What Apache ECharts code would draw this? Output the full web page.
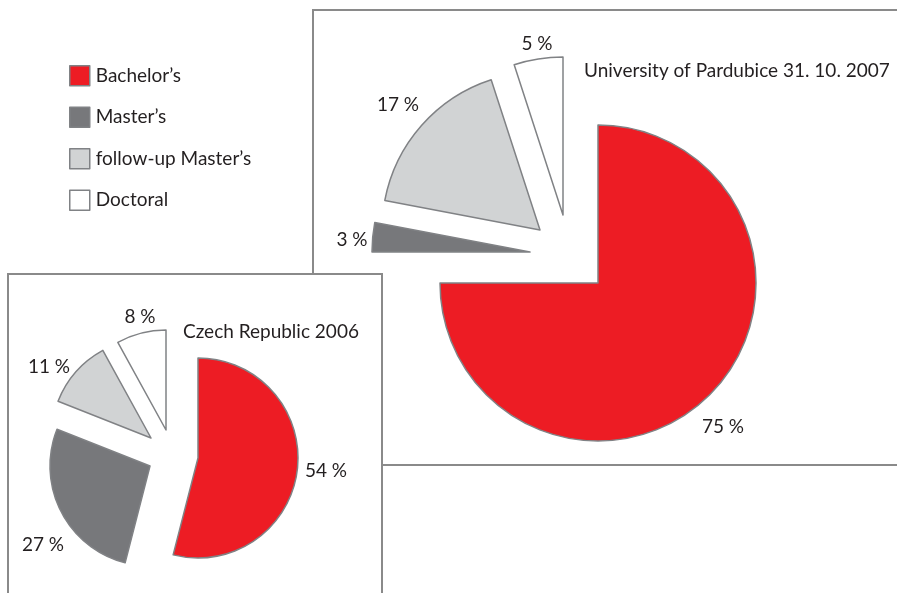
<!DOCTYPE html>
<html>
<head>
<meta charset="utf-8">
<script src="https://cdn.jsdelivr.net/npm/echarts@6/dist/echarts.min.js"></script>
<style>
  html, body { margin: 0; padding: 0; background: #fff; }
  #chart { width: 897px; height: 593px; }
</style>
</head>
<body>
<div id="chart"></div>
<script>
// data
const categories = ['Bachelor’s', 'Master’s', 'follow-up Master’s', 'Doctoral']
const univValues = [75, 3, 17, 5]
const czechValues = [54, 27, 11, 8]
const titles = ['University of Pardubice 31. 10. 2007', 'Czech Republic 2006']

const colors = ['#ed1c24', '#77787b', '#d1d3d4', '#ffffff']
const edge = '#808285'
const ink = '#231f20'
const font = 'Lato'
const fontSize = 19

// each slice is pulled out on its own, so every slice gets its own centre shift
const univLayout = {
  center: [598, 283], r: 158, z: 2,
  shift: [[0, 0], [-68, -31], [-58, -53], [-35, -68]],
  labelAt: [[723, 427], [352, 240], [398, 105], [537, 44]]
}
const czechLayout = {
  center: [198, 458], r: 100, z: 20,
  shift: [[0, 0], [-48, 8], [-47, -20], [-32, -28]],
  labelAt: [[326, 471], [43, 545], [49, 367], [140, 317]]
}

const sliceSeries = (values, lay) => values.map((v, i) => ({
  type: 'pie',
  silent: true,
  z: lay.z,
  radius: lay.r,
  center: [lay.center[0] + lay.shift[i][0], lay.center[1] + lay.shift[i][1]],
  startAngle: 90,
  clockwise: true,
  avoidLabelOverlap: false,
  emphasis: { disabled: true },
  labelLine: { show: false },
  labelLayout: () => ({
    x: lay.labelAt[i][0], y: lay.labelAt[i][1], align: 'center', verticalAlign: 'middle'
  }),
  data: values.map((val, j) => ({
    name: categories[j],
    value: val,
    itemStyle: j === i
      ? { color: colors[j], borderColor: edge, borderWidth: 1.5 }
      : { color: 'rgba(0,0,0,0)', borderWidth: 0 },
    label: j === i
      ? { show: true, position: 'outside', formatter: '{c} %', fontFamily: font, fontSize: fontSize, color: ink }
      : { show: false }
  }))
}))

const chart = echarts.init(document.getElementById('chart'))
chart.setOption({
  backgroundColor: '#fff',
  animation: false,
  title: [
    { text: titles[0], left: 584, top: 61, padding: 0, z: 30,
      textStyle: { fontFamily: font, fontSize: fontSize, lineHeight: 20, fontWeight: 'normal', color: ink } },
    { text: titles[1], left: 183, top: 322, padding: 0, z: 30,
      textStyle: { fontFamily: font, fontSize: fontSize, lineHeight: 20, fontWeight: 'normal', color: ink } }
  ],
  legend: {
    orient: 'vertical',
    left: 69,
    top: 65,
    padding: 0,
    itemWidth: 20,
    itemHeight: 20,
    itemGap: 20,
    icon: 'rect',
    selectedMode: false,
    textStyle: { fontFamily: font, fontSize: fontSize, lineHeight: 20, color: ink, padding: [0, 0, 0, 1] },
    data: categories.map((c, j) => ({
      name: c,
      itemStyle: { color: colors[j], borderColor: edge, borderWidth: 1.5 }
    }))
  },
  graphic: [
    { type: 'rect', z: 0, silent: true,
      shape: { x: 313, y: 10, width: 640, height: 455 },
      style: { fill: '#fff', stroke: '#8a8a8a', lineWidth: 2 } },
    { type: 'rect', z: 10, silent: true,
      shape: { x: 8, y: 274, width: 374, height: 360 },
      style: { fill: '#fff', stroke: '#8a8a8a', lineWidth: 2 } }
  ],
  series: [...sliceSeries(univValues, univLayout), ...sliceSeries(czechValues, czechLayout)]
})
window.addEventListener('resize', () => chart.resize())
</script>
</body>
</html>
